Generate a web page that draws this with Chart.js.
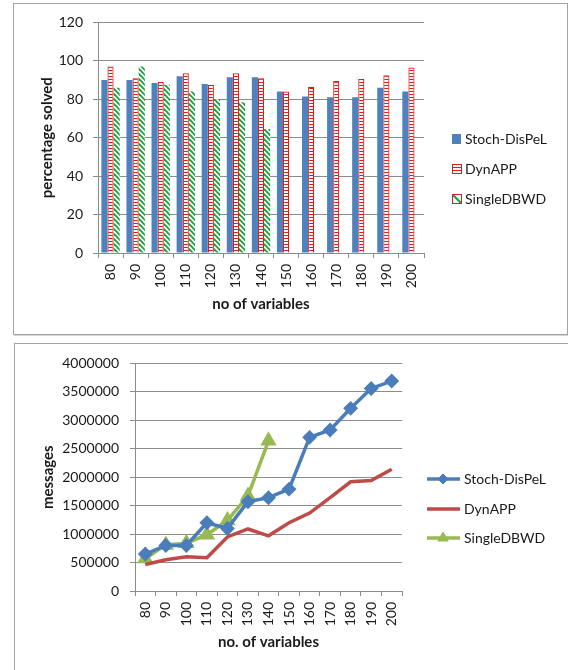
<!DOCTYPE html>
<html>
<head>
<meta charset="utf-8">
<script src="https://cdn.jsdelivr.net/npm/chart.js@4.4.1/dist/chart.umd.min.js"></script>
<style>
  html, body { margin: 0; padding: 0; background: #fff; width: 568px; height: 670px; overflow: hidden; }
  .frame { position: absolute; border: 1px solid #a3a3a3; box-shadow: 1px 1px 0 #d4d4d4; background: #fff; }
  #f1 { left: 13px; top: 3px; width: 553px; height: 330px; }
  #f2 { left: 14px; top: 343px; width: 556px; height: 330px; }
  canvas { display: block; }
</style>
</head>
<body>
<div class="frame" id="f1"><canvas id="solvedChart" width="553" height="330"></canvas></div>
<div class="frame" id="f2"><canvas id="messagesChart" width="553" height="326"></canvas></div>
<script>
// Problem sizes (number of variables)
const variables = ['80', '90', '100', '110', '120', '130', '140', '150', '160', '170', '180', '190', '200'];

// Percentage of problems solved
const stochSolved  = [90, 90, 88.5, 92, 88, 91.5, 91.5, 84, 81.5, 81, 81, 86, 84];
const dynSolved    = [97, 91, 89, 93.5, 87.5, 93.5, 91, 84, 86.5, 89.5, 90.5, 92.5, 96.5];
const singleSolved = [86, 97, 87.5, 84, 80, 78.5, 64.5, null, null, null, null, null, null];

// Messages exchanged
const stochMessages  = [650000, 800000, 800000, 1200000, 1100000, 1570000, 1640000, 1790000, 2700000, 2830000, 3210000, 3560000, 3690000];
const dynMessages    = [465000, 550000, 600000, 585000, 950000, 1090000, 970000, 1200000, 1370000, 1640000, 1920000, 1940000, 2140000];
const singleMessages = [570000, 810000, 840000, 990000, 1240000, 1670000, 2640000, null, null, null, null, null, null];

const seriesNames = ['Stoch-DisPeL', 'DynAPP', 'SingleDBWD'];

const FONT = 'Lato, "Open Sans", sans-serif';
const TEXT = '#1a1a1a';
const GRID = '#8c8c8c';

// Fill patterns for the hatched bars
function ladderPattern() {
  const c = document.createElement('canvas');
  c.width = 4; c.height = 3;
  const g = c.getContext('2d');
  g.fillStyle = '#ffffff'; g.fillRect(0, 0, 4, 3);
  g.fillStyle = '#e01a17'; g.fillRect(0, 0, 4, 1);
  return g.createPattern(c, 'repeat');
}
function diagonalPattern() {
  const c = document.createElement('canvas');
  c.width = 5; c.height = 5;
  const g = c.getContext('2d');
  g.fillStyle = '#ffffff'; g.fillRect(0, 0, 5, 5);
  g.strokeStyle = '#16a23a'; g.lineWidth = 1.8;
  g.beginPath(); g.moveTo(-1, -1); g.lineTo(6, 6); g.stroke();
  g.beginPath(); g.moveTo(-1, 4); g.lineTo(1, 6); g.stroke();
  g.beginPath(); g.moveTo(4, -1); g.lineTo(6, 1); g.stroke();
  return g.createPattern(c, 'repeat');
}

// Legend drawn beside the plot, Excel style
const barLegend = {
  id: 'barLegend',
  afterDraw(chart) {
    const ctx = chart.ctx;
    const x = chart.chartArea.right + 28;
    const ys = [135, 165, 195];
    ctx.save();
    ctx.font = '14px ' + FONT;
    ctx.textBaseline = 'middle';
    ctx.fillStyle = TEXT;
    chart.data.datasets.forEach((ds, i) => {
      const y = ys[i];
      if (i === 0) {
        ctx.fillStyle = '#4F81BD';
        ctx.fillRect(x, y - 5, 9, 10);
      } else if (i === 1) {
        ctx.fillStyle = '#fff';
        ctx.fillRect(x, y - 5, 9, 10);
        ctx.strokeStyle = '#e01a17'; ctx.lineWidth = 1;
        ctx.strokeRect(x + 0.5, y - 4.5, 9, 9);
        ctx.beginPath();
        ctx.moveTo(x, y - 1.5); ctx.lineTo(x + 9, y - 1.5);
        ctx.moveTo(x, y + 1.5); ctx.lineTo(x + 9, y + 1.5);
        ctx.stroke();
      } else {
        ctx.fillStyle = '#fff';
        ctx.fillRect(x, y - 5, 9, 10);
        ctx.strokeStyle = '#16a23a'; ctx.lineWidth = 2.2;
        ctx.beginPath(); ctx.moveTo(x + 1, y - 4); ctx.lineTo(x + 9, y + 4); ctx.stroke();
        ctx.strokeStyle = '#c0282a'; ctx.lineWidth = 1;
        ctx.strokeRect(x + 0.5, y - 4.5, 9, 9);
      }
      ctx.fillStyle = TEXT;
      ctx.fillText(ds.label, x + 13, y);
    });
    ctx.restore();
  }
};

const lineLegend = {
  id: 'lineLegend',
  afterDraw(chart) {
    const ctx = chart.ctx;
    const x0 = chart.chartArea.right + 25;
    const ys = [135, 165, 194];
    ctx.save();
    ctx.font = '14px ' + FONT;
    ctx.textBaseline = 'middle';
    chart.data.datasets.forEach((ds, i) => {
      const y = ys[i];
      ctx.strokeStyle = ds.borderColor;
      ctx.lineWidth = 3.5;
      ctx.beginPath(); ctx.moveTo(x0, y); ctx.lineTo(x0 + 33, y); ctx.stroke();
      if (ds.pointRadius > 0) {
        ctx.fillStyle = ds.pointBackgroundColor;
        ctx.strokeStyle = ds.pointBorderColor;
        ctx.lineWidth = 1;
        Chart.helpers.drawPoint(ctx, { pointStyle: ds.pointStyle, radius: ds.pointRadius, rotation: 0, borderWidth: 1 }, x0 + 16, y);
      }
      ctx.fillStyle = TEXT;
      ctx.fillText(ds.label, x0 + 37, y);
    });
    ctx.restore();
  }
};

const tickFont = { family: FONT, size: 14 };
const titleFont = { family: FONT, size: 15, weight: 'bold' };

new Chart(document.getElementById('solvedChart'), {
  type: 'bar',
  data: {
    labels: variables,
    datasets: [
      { label: seriesNames[0], data: stochSolved, backgroundColor: '#4F81BD', borderWidth: 0 },
      { label: seriesNames[1], data: dynSolved, backgroundColor: ladderPattern(), borderColor: '#e01a17', borderWidth: 1.2 },
      { label: seriesNames[2], data: singleSolved, backgroundColor: diagonalPattern(), borderWidth: 0 }
    ]
  },
  options: {
    responsive: false,
    animation: false,
    layout: { padding: { top: 17, right: 143, left: 0, bottom: 0 } },
    datasets: { bar: { categoryPercentage: 0.73, barPercentage: 1.0 } },
    plugins: { legend: { display: false }, tooltip: { enabled: false } },
    scales: {
      x: {
        afterFit(scale) { scale.height = 81; },
        grid: { drawOnChartArea: false, drawTicks: true, tickLength: 5, color: GRID, offset: true },
        border: { color: GRID, width: 1 },
        ticks: { color: TEXT, font: tickFont, minRotation: 90, maxRotation: 90, padding: 6, autoSkip: false },
        title: { display: true, text: 'no of variables', color: TEXT, font: titleFont, padding: { top: 0, bottom: 21 } }
      },
      y: {
        min: 0, max: 120,
        afterFit(scale) { scale.width = 84; },
        grid: { color: GRID, tickLength: 5 },
        border: { color: GRID, width: 1 },
        ticks: { stepSize: 20, color: TEXT, font: tickFont, padding: 10 },
        title: { display: true, text: 'percentage solved', color: TEXT, font: titleFont, padding: { top: 24, bottom: 0 } }
      }
    }
  },
  plugins: [barLegend]
});

new Chart(document.getElementById('messagesChart'), {
  type: 'line',
  data: {
    labels: variables,
    datasets: [
      { label: seriesNames[0], data: stochMessages, borderColor: '#4A7EBB', backgroundColor: '#4A7EBB',
        pointStyle: 'rectRot', pointRadius: 5, pointBackgroundColor: '#4A7EBB', pointBorderColor: '#4A7EBB',
        borderWidth: 3.5, tension: 0 },
      { label: seriesNames[1], data: dynMessages, borderColor: '#BE4B48', backgroundColor: '#BE4B48',
        pointRadius: 0, borderWidth: 3.5, tension: 0 },
      { label: seriesNames[2], data: singleMessages, borderColor: '#98B954', backgroundColor: '#98B954',
        pointStyle: 'triangle', pointRadius: 6, pointBackgroundColor: '#98B954', pointBorderColor: '#98B954',
        borderWidth: 3.5, tension: 0 }
    ]
  },
  options: {
    responsive: false,
    animation: false,
    layout: { padding: { top: 17, right: 166, left: 0, bottom: 0 } },
    plugins: { legend: { display: false }, tooltip: { enabled: false } },
    scales: {
      x: {
        offset: true,
        afterFit(scale) { scale.height = 79; },
        grid: { drawOnChartArea: false, drawTicks: true, tickLength: 5, color: GRID, offset: true },
        border: { color: GRID, width: 1 },
        ticks: { color: TEXT, font: tickFont, minRotation: 90, maxRotation: 90, padding: 6, autoSkip: false },
        title: { display: true, text: 'no. of variables', color: TEXT, font: titleFont, padding: { top: 0, bottom: 19 } }
      },
      y: {
        min: 0, max: 4000000,
        afterFit(scale) { scale.width = 120; },
        grid: { color: GRID, tickLength: 5 },
        border: { color: GRID, width: 1 },
        ticks: { stepSize: 500000, color: TEXT, font: tickFont, padding: 11, callback: v => String(v) },
        title: { display: true, text: 'messages', color: TEXT, font: titleFont, padding: { top: 24, bottom: 0 } }
      }
    }
  },
  plugins: [lineLegend]
});
</script>
</body>
</html>
